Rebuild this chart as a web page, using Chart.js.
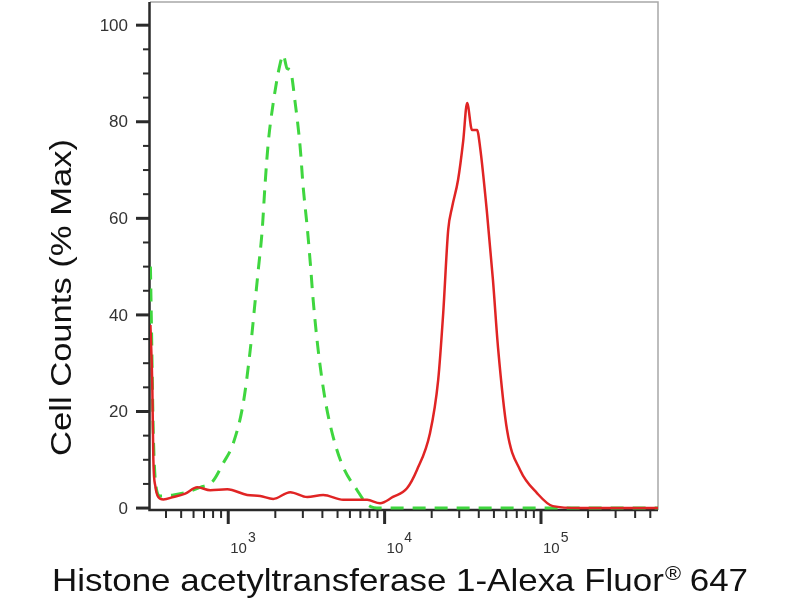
<!DOCTYPE html>
<html>
<head>
<meta charset="utf-8">
<script src="https://cdn.jsdelivr.net/npm/chart.js@4/dist/chart.umd.min.js"></script>
<style>
  html, body { margin: 0; padding: 0; background: #fff; }
  #wrap { width: 800px; height: 600px; }
</style>
</head>
<body>
<div id="wrap"><canvas id="histChart" width="800" height="600"></canvas></div>
<script>
// Red histogram (stained sample) - fluorescence vs % max
const redX = [318, 327, 332, 342, 357, 385, 446, 531, 634, 767, 986, 1322, 1600, 1940, 2490, 3200, 4050, 5430, 7730, 9350,
  11300, 13900, 16100, 19500, 22000, 23700, 25500, 27000, 29500, 31800, 33700, 36200, 39000, 40800, 45200, 49300,
  53100, 60700, 73500, 94300, 119000, 177000, 560000];
const redY = [37.9, 25, 10, 4.5, 2.3, 1.8, 2.3, 3.0, 4.3, 3.7, 3.9, 2.7, 2.5, 1.9, 3.3, 2.3, 2.7, 1.7, 1.7, 1.0,
  2.3, 4.1, 7.9, 15.5, 26.5, 40.4, 57.6, 62.3, 68, 76, 83.9, 78.3, 78.3, 74.7, 61, 47.2,
  33.3, 16.1, 7.9, 3.1, 0.4, 0, 0];

// Green dashed histogram (control)
const greenX = [318, 322, 332, 347, 367, 446, 547, 663, 790, 929, 1076, 1247, 1382, 1488, 1556, 1649, 1722, 1802, 1940,
  2150, 2246, 2382, 2490, 2680, 2884, 3014, 3198, 3343, 3494, 3760, 4168, 4690, 5430, 6670, 7730, 9350, 12560, 54700, 560000];
const greenY = [50, 40, 15, 4, 2.5, 2.7, 3.3, 4.3, 5.4, 9.3, 13.4, 21.7, 32.7, 43, 49.3, 57.6, 67.3, 75.6, 83.9,
  92.1, 93.8, 91, 90.7, 83.9, 74.7, 66.5, 58.2, 51, 43, 32.7, 22.4, 14.7, 8.5, 3.7, 0.8, 0, 0, 0, 0];

// axis stuff
const yMajorTicks = [0, 20, 40, 60, 80, 100];
const yMinorTicks = [5, 10, 15, 25, 30, 35, 45, 50, 55, 65, 70, 75, 85, 90, 95];
const xDecades = [3, 4, 5];
const xMinorTicks = [400, 500, 600, 700, 800, 900, 2000, 3000, 4000, 5000, 6000, 7000, 8000, 9000,
  20000, 30000, 40000, 50000, 60000, 70000, 80000, 90000, 200000, 300000, 400000, 500000];
const xTitle = 'Histone acetyltransferase 1-Alexa Fluor';
const xTitleSup = '®';
const xTitleEnd = ' 647';
const yTitle = 'Cell Counts (% Max)';

const FONT = '"Liberation Sans", Arial, sans-serif';

function toPoints(xs, ys) {
  return xs.map(function(x, i) { return { x: x, y: ys[i] }; });
}

// draws the FlowJo-like frame, ticks and labels
const axesPlugin = {
  id: 'axesPlugin',
  beforeDatasetsDraw(chart) {
    const ctx = chart.ctx;
    const area = chart.chartArea;
    const xs = chart.scales.x;
    const ys = chart.scales.y;
    ctx.save();

    // top + right border (grey)
    ctx.strokeStyle = '#a8a8a8';
    ctx.lineWidth = 1.5;
    ctx.beginPath();
    ctx.moveTo(area.left, area.top);
    ctx.lineTo(area.right, area.top);
    ctx.lineTo(area.right, area.bottom);
    ctx.stroke();

    // left + bottom axis (dark)
    ctx.strokeStyle = '#2a2a2a';
    ctx.lineWidth = 2.5;
    ctx.beginPath();
    ctx.moveTo(area.left - 0.5, area.top);
    ctx.lineTo(area.left - 0.5, area.bottom);
    ctx.lineTo(area.right, area.bottom);
    ctx.stroke();

    // y ticks
    ctx.lineWidth = 3;
    yMajorTicks.forEach(function(v) {
      const py = ys.getPixelForValue(v);
      ctx.beginPath();
      ctx.moveTo(area.left - 14, py);
      ctx.lineTo(area.left, py);
      ctx.stroke();
    });
    ctx.lineWidth = 2;
    yMinorTicks.forEach(function(v) {
      const py = ys.getPixelForValue(v);
      ctx.beginPath();
      ctx.moveTo(area.left - 7, py);
      ctx.lineTo(area.left, py);
      ctx.stroke();
    });
    ctx.fillStyle = '#333';
    ctx.font = '17px ' + FONT;
    ctx.textAlign = 'right';
    ctx.textBaseline = 'middle';
    yMajorTicks.forEach(function(v) {
      ctx.fillText(String(v), area.left - 22, ys.getPixelForValue(v) + 1);
    });

    // x ticks
    ctx.lineWidth = 3;
    xDecades.forEach(function(d) {
      const px = xs.getPixelForValue(Math.pow(10, d));
      ctx.beginPath();
      ctx.moveTo(px, area.bottom);
      ctx.lineTo(px, area.bottom + 14);
      ctx.stroke();
    });
    ctx.lineWidth = 2;
    xMinorTicks.forEach(function(v) {
      const px = xs.getPixelForValue(v);
      ctx.beginPath();
      ctx.moveTo(px, area.bottom);
      ctx.lineTo(px, area.bottom + 8);
      ctx.stroke();
    });
    ctx.textAlign = 'left';
    ctx.textBaseline = 'alphabetic';
    xDecades.forEach(function(d) {
      const px = xs.getPixelForValue(Math.pow(10, d));
      ctx.font = '15px ' + FONT;
      ctx.fillText('10', px + 2, 553);
      const w = ctx.measureText('10').width;
      ctx.font = '14px ' + FONT;
      ctx.fillText(String(d), px + 3 + w, 542);
    });

    // x title (with superscript registered sign)
    ctx.fillStyle = '#111';
    ctx.font = '32px ' + FONT;
    const w1 = ctx.measureText(xTitle).width;
    ctx.font = '20px ' + FONT;
    const w2 = ctx.measureText(xTitleSup).width;
    ctx.font = '32px ' + FONT;
    const w3 = ctx.measureText(xTitleEnd).width;
    const sx = 696 / (w1 + w2 + w3);
    ctx.save();
    ctx.translate(52, 591);
    ctx.scale(sx, 1);
    ctx.fillText(xTitle, 0, 0);
    ctx.font = '20px ' + FONT;
    ctx.fillText(xTitleSup, w1 + 1, -11);
    ctx.font = '32px ' + FONT;
    ctx.fillText(xTitleEnd, w1 + w2, 0);
    ctx.restore();

    // y title, rotated
    ctx.font = '29px ' + FONT;
    const wy = ctx.measureText(yTitle).width;
    ctx.save();
    ctx.translate(71, 456);
    ctx.rotate(-Math.PI / 2);
    ctx.scale(317 / wy, 1);
    ctx.fillText(yTitle, 0, 0);
    ctx.restore();

    ctx.restore();
  }
};

const ctxHist = document.getElementById('histChart');

const histChart = new Chart(ctxHist, {
  type: 'line',
  data: {
    datasets: [{
      label: 'stained',
      data: toPoints(redX, redY),
      borderColor: '#e02424',
      borderWidth: 2.5,
      pointRadius: 0,
      cubicInterpolationMode: 'monotone',
      fill: false
    }, {
      label: 'control',
      data: toPoints(greenX, greenY),
      borderColor: '#3fd63f',
      borderWidth: 3,
      borderDash: [13, 9],
      pointRadius: 0,
      cubicInterpolationMode: 'monotone',
      fill: false
    }]
  },
  options: {
    responsive: false,
    animation: false,
    devicePixelRatio: 1,
    layout: { padding: { top: 2, right: 142, left: 0, bottom: 0 } },
    plugins: {
      legend: { display: false },
      tooltip: { enabled: false }
    },
    scales: {
      x: {
        type: 'logarithmic',
        min: 316,
        max: 560000,
        ticks: { display: false },
        grid: { display: false },
        border: { display: false },
        afterFit: function(scale) { scale.height = 90; }
      },
      y: {
        min: -0.4,
        max: 104.8,
        ticks: { display: false },
        grid: { display: false },
        border: { display: false },
        afterFit: function(scale) { scale.width = 150; }
      }
    }
  },
  plugins: [axesPlugin]
});
</script>
</body>
</html>
